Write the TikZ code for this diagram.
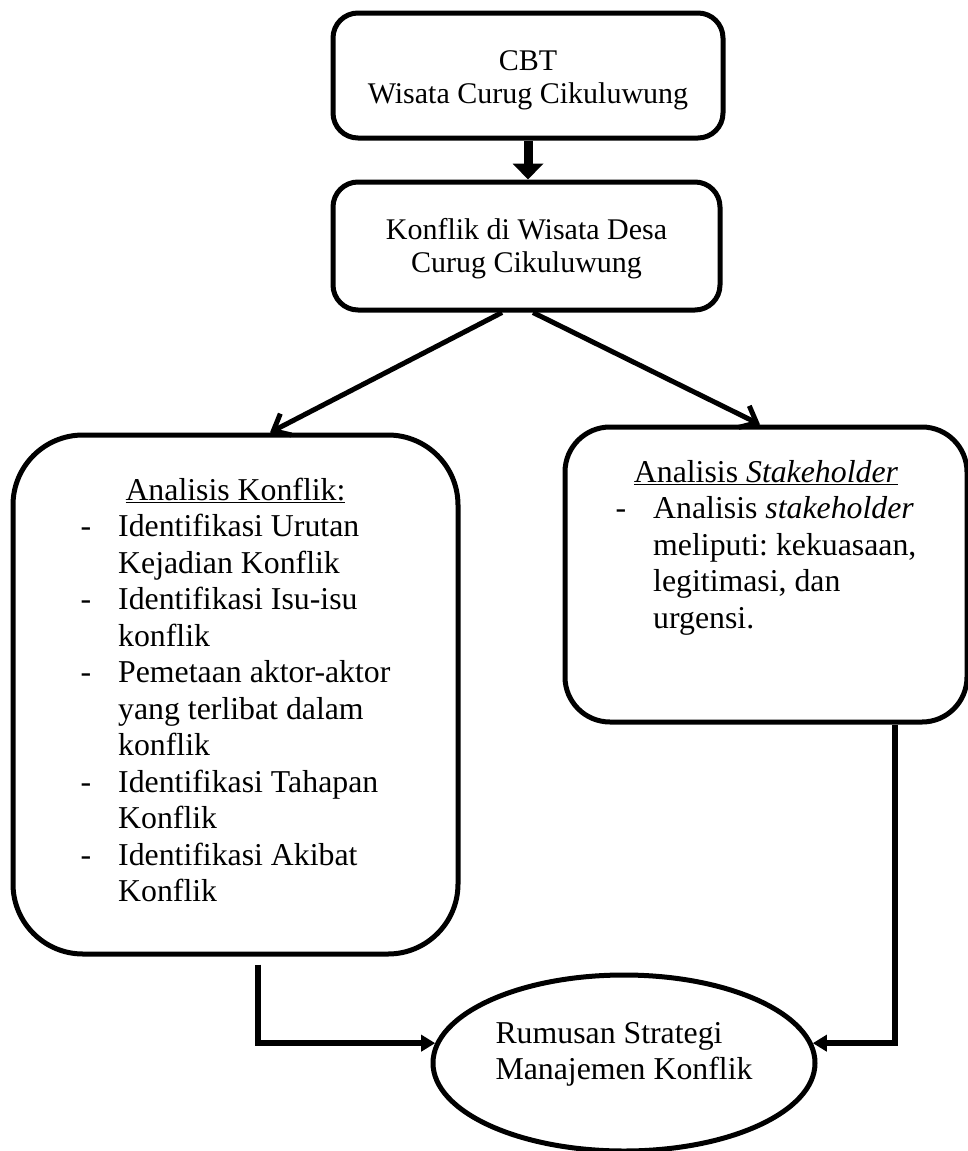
\documentclass[tikz,border=0pt]{standalone}
\usepackage{fontspec}
\setmainfont{Liberation Serif}
\usepackage{tikz}
\usetikzlibrary{shapes.geometric, arrows.meta, positioning}
\frenchspacing

\begin{document}
\begin{tikzpicture}[x=1pt,y=-1pt,
	kotak/.style={draw,line width=5pt,inner sep=0pt,rounded corners=#1},
	teks/.style={font={\fontsize{31.8pt}{36.5pt}\selectfont}},
	teksatas/.style={font={\fontsize{30pt}{33pt}\selectfont}},
	panahtebal/.style={-{Triangle[width=30pt,length=16pt]},line width=9pt},
	panah/.style={-{Straight Barb[length=14pt,width=24pt]},line width=5pt},
	panahsiku/.style={-{Triangle[width=16pt,length=14pt]},line width=5.5pt}]
	\useasboundingbox (0,0) rectangle (968,1151);
	\node[kotak=25pt,teksatas,minimum width=390pt,text height=57pt,text depth=68pt] at (528,75.5) (cbt) {\begin{tabular}[t]{c}CBT\\Wisata Curug Cikuluwung\end{tabular}};
	\node[kotak=25pt,teksatas,minimum width=387pt,text height=57pt,text depth=71pt] at (526.5,246) (desa) {\begin{tabular}[t]{c}Konflik di Wisata Desa\\Curug Cikuluwung\end{tabular}};
	\node[kotak=70pt,teks,minimum width=445pt,text height=65pt,text depth=454pt] at (235.5,694.5) (konflik) {\begin{tabular}[t]{@{}l@{\hspace{27pt}}l@{}}
		\multicolumn{2}{c}{\underline{Analisis Konflik:}}\\
		- & Identifikasi Urutan\\
		  & Kejadian Konflik\\
		- & Identifikasi Isu-isu\\
		  & konflik\\
		- & Pemetaan aktor-aktor\\
		  & yang terlibat dalam\\
		  & konflik\\
		- & Identifikasi Tahapan\\
		  & Konflik\\
		- & Identifikasi Akibat\\
		  & Konflik
	\end{tabular}};
	\node[kotak=45pt,teks,minimum width=402pt,text height=55pt,text depth=240pt] at (766,574.5) (stake) {\begin{tabular}[t]{@{}l@{\hspace{27pt}}l@{}}
		\multicolumn{2}{c}{\underline{Analisis \textit{Stakeholder}}}\\
		- & Analisis \textit{stakeholder}\\
		  & meliputi: kekuasaan,\\
		  & legitimasi, dan\\
		  & urgensi.
	\end{tabular}};
	\node[ellipse,draw,line width=5pt,inner sep=0pt,teks,minimum width=382pt,minimum height=176pt,text height=22pt,text depth=62pt] at (624,1063) (rumusan) {\begin{tabular}[t]{@{}l@{}}Rumusan Strategi\\Manajemen Konflik\end{tabular}};
	\draw[panahtebal] (cbt.south) -- (cbt.south |- desa.north);
	\draw[panah] ([xshift=-24.5pt]desa.south) -- ([xshift=34.5pt]konflik.north);
	\draw[panah] ([xshift=6.5pt]desa.south) -- ([xshift=-6pt]stake.north);
	\draw[panahsiku,shorten <=8pt] ([xshift=22.5pt]konflik.south) |- (rumusan.174);
	\draw[panahsiku] ([xshift=129pt]stake.south) |- (rumusan.6);
\end{tikzpicture}
\end{document}
